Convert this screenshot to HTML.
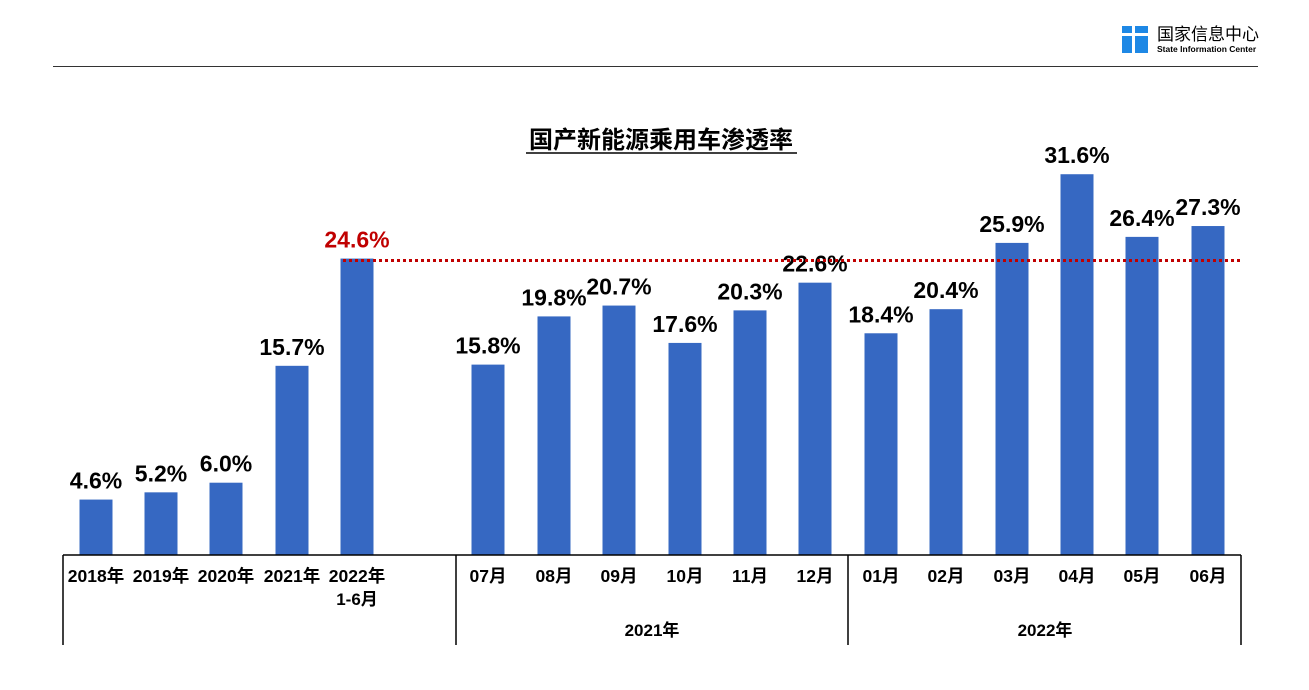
<!DOCTYPE html><html><head><meta charset="utf-8"><style>body{margin:0;background:#fff}svg text{font-family:"Liberation Sans","Noto Sans CJK SC",sans-serif;font-weight:bold}</style></head><body>
<svg width="1309" height="685" xmlns="http://www.w3.org/2000/svg">
<rect x="1122" y="26" width="10" height="7" fill="#1e88e5"/><rect x="1135" y="26" width="13" height="7" fill="#1e88e5"/><rect x="1122" y="36" width="10" height="17" fill="#1e88e5"/><rect x="1135" y="36" width="13" height="17" fill="#1e88e5"/>
<text x="1157" y="40" font-size="17" style="font-weight:normal">国家信息中心</text>
<text x="1157" y="52" font-size="8.5">State Information Center</text>
<line x1="53" y1="66.5" x2="1258" y2="66.5" stroke="#333" stroke-width="1"/>
<text x="661" y="148" font-size="24" text-anchor="middle">国产新能源乘用车渗透率</text>
<line x1="526" y1="153" x2="797" y2="153" stroke="#000" stroke-width="1.5"/>
<g id="bars"></g>
<line x1="343" y1="260.5" x2="1240" y2="260.5" stroke="#c00000" stroke-width="3" stroke-dasharray="3,3"/>
<g stroke="#000" stroke-width="1.5"><line x1="63" y1="555" x2="1241" y2="555"/><line x1="63" y1="555" x2="63" y2="645"/><line x1="456" y1="555" x2="456" y2="645"/><line x1="848" y1="555" x2="848" y2="645"/><line x1="1241" y1="555" x2="1241" y2="645"/></g>
<text x="357" y="605" font-size="17" text-anchor="middle">1-6月</text>
<text x="652" y="636" font-size="17" text-anchor="middle">2021年</text>
<text x="1045" y="636" font-size="17" text-anchor="middle">2022年</text>
</svg>
<script>
var d=[[96,4.6,"2018年"],[161,5.2,"2019年"],[226,6.0,"2020年"],[292,15.7,"2021年"],[357,24.6,"2022年"],[488,15.8,"07月"],[554,19.8,"08月"],[619,20.7,"09月"],[685,17.6,"10月"],[750,20.3,"11月"],[815,22.6,"12月"],[881,18.4,"01月"],[946,20.4,"02月"],[1012,25.9,"03月"],[1077,31.6,"04月"],[1142,26.4,"05月"],[1208,27.3,"06月"]];
var s="",g=document.getElementById("bars");
d.forEach(function(b,i){var h=b[1]*12.05,t=555-h;
s+='<rect x="'+(b[0]-16.5)+'" y="'+t+'" width="33" height="'+h+'" fill="#3668c2"/>';
s+='<text x="'+b[0]+'" y="'+(t-11)+'" font-size="23" text-anchor="middle" fill="'+(i==4?'#c00000':'#000')+'">'+b[1].toFixed(1)+'%</text>';
s+='<text x="'+b[0]+'" y="582" font-size="17.5" text-anchor="middle">'+b[2]+'</text>';});
g.innerHTML=s;
</script>
</body></html>
